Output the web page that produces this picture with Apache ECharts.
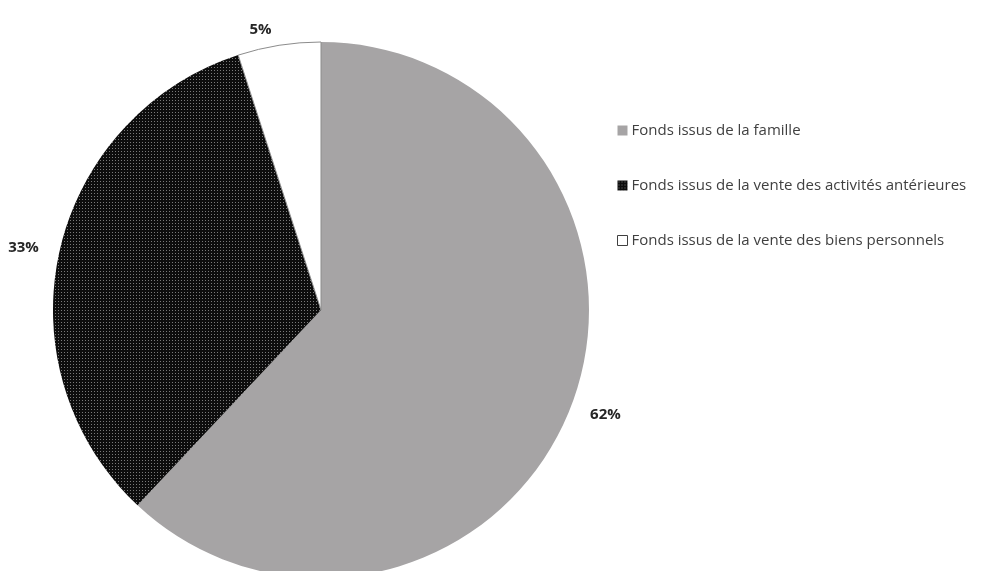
<!DOCTYPE html>
<html>
<head>
<meta charset="utf-8">
<script src="https://cdn.jsdelivr.net/npm/echarts@6/dist/echarts.min.js"></script>
<style>
  html, body { margin: 0; padding: 0; background: #ffffff; }
  #chart { width: 984px; height: 571px; }
</style>
</head>
<body>
<div id="chart"></div>
<script>
// Origine des fonds (en %)
const categories = [
  'Fonds issus de la famille',
  'Fonds issus de la vente des activités antérieures',
  'Fonds issus de la vente des biens personnels'
];
const values = [62, 33, 5];

// Dotted dark fill: black ground with a fine grid of grey dots
function dotPattern() {
  const c = document.createElement('canvas');
  c.width = 3; c.height = 3;
  const ctx = c.getContext('2d');
  ctx.fillStyle = '#0d0d0d';
  ctx.fillRect(0, 0, 3, 3);
  ctx.fillStyle = '#7a7a7a';
  ctx.fillRect(1, 1, 1, 1);
  return c;
}
const dots = { image: dotPattern(), repeat: 'repeat' };

const fills = [
  { color: '#a6a4a5', borderWidth: 0 },
  { color: dots, borderWidth: 0 },
  { color: '#ffffff', borderColor: '#8c8c8c', borderWidth: 1 }
];

const chart = echarts.init(document.getElementById('chart'), null, { renderer: 'canvas' });

chart.setOption({
  animation: false,
  backgroundColor: '#ffffff',
  legend: {
    orient: 'vertical',
    left: 612,
    top: 118,
    itemGap: 40,
    itemWidth: 10,
    itemHeight: 10,
    icon: 'rect',
    textStyle: { fontFamily: 'Open Sans', fontSize: 15, color: '#404040', padding: [0, 0, 0, -1] },
    data: categories.map((name, i) => ({
      name,
      itemStyle: i === 2
        ? { color: '#ffffff', borderColor: '#404040', borderWidth: 1 }
        : i === 1
          ? { color: dots }
          : { color: '#a6a4a5' }
    }))
  },
  series: [{
    type: 'pie',
    center: [321, 310],
    radius: 268,
    startAngle: 90,
    clockwise: true,
    label: {
      show: true,
      position: 'outside',
      formatter: '{c}%',
      fontFamily: 'Open Sans',
      fontWeight: 'bold',
      fontSize: 15,
      color: '#262626',
      overflow: 'none'
    },
    labelLine: { show: false, length: 16, length2: 0 },
    emphasis: { disabled: true },
    data: categories.map((name, i) => ({
      name,
      value: values[i],
      itemStyle: fills[i]
    }))
  }]
});
</script>
</body>
</html>
